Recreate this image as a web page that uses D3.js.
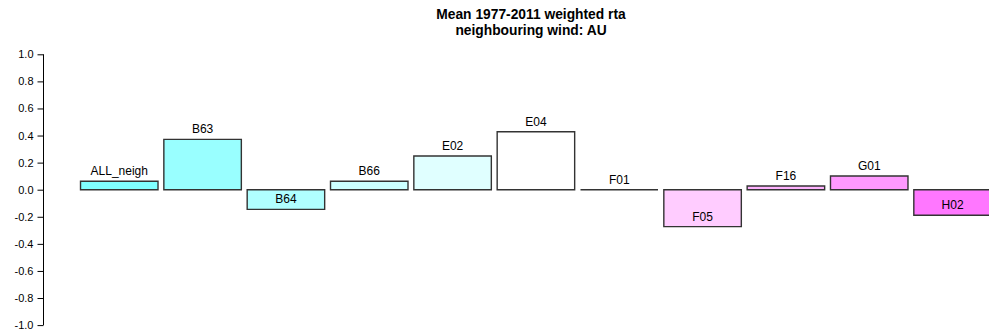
<!DOCTYPE html>
<html><head><meta charset="utf-8">
<script src="https://cdn.jsdelivr.net/npm/d3@7"></script>
<style>body{margin:0;background:#fff}svg{display:block}text{font-family:"Liberation Sans",Arial,sans-serif}</style>
</head><body>
<svg id="c" width="989" height="335"></svg>
<script>
const categories = ["ALL_neigh","B63","B64","B66","E02","E04","F01","F05","F16","G01","H02"];
const values = [0.062, 0.372, -0.145, 0.062, 0.249, 0.428, 0.0, -0.273, 0.027, 0.101, -0.189];
const colors = ["#80FFFF","#99FFFF","#B0FFFF","#CCFFFF","#E0FFFF","#FFFFFF","#FFFFFF","#FFCCFF","#FFB3FF","#FF99FF","#FF77FF"];
const yTicks = [-1.0,-0.8,-0.6,-0.4,-0.2,0.0,0.2,0.4,0.6,0.8,1.0];
const titleLines = ["Mean 1977-2011 weighted rta","neighbouring wind: AU"];

const svg = d3.select("#c");
const y = d3.scaleLinear().domain([-1,1]).range([325.1,54.3]);
const x = d3.scaleBand().domain(categories).range([77.6, 77.6 + 83.33*categories.length]).paddingInner(0.07).paddingOuter(0.035);

const yAxis = d3.axisLeft(y).tickValues(yTicks).tickFormat(d3.format(".1f")).tickSize(6).tickPadding(4);
const ga = svg.append("g").attr("transform","translate(43.5,0)").call(yAxis);
ga.select(".domain").attr("stroke","#000").attr("d","M-0,54.3V325.1");
ga.selectAll(".tick line").attr("stroke","#000");
ga.selectAll(".tick text").attr("font-size",11).attr("fill","#000").text(d=>d3.format(".1f")(d).replace("−","-"));

svg.append("g").selectAll("path").data(categories).join("path")
  .attr("d", (d,i)=>{
    const x0 = x(d), x1 = x(d)+x.bandwidth(), y0 = y(0), y1 = y(values[i]);
    return `M${x0},${y0}L${x0},${y1}L${x1},${y1}L${x1},${y0}Z`;
  })
  .attr("fill", (d,i)=>colors[i])
  .attr("stroke","#333").attr("stroke-width",1.4);

svg.append("g").selectAll("text").data(categories).join("text")
  .attr("x", d=>x(d)+x.bandwidth()/2)
  .attr("y", (d,i)=>y(values[i]+0.075))
  .attr("dy","0.35em")
  .attr("text-anchor","middle")
  .attr("font-size",12).attr("fill","#000")
  .text(d=>d);

svg.append("g").selectAll("text").data(titleLines).join("text")
  .attr("x", 531).attr("y",(d,i)=>19+i*16)
  .attr("text-anchor","middle").attr("font-weight","bold").attr("font-size",13.8)
  .text(d=>d);
</script>
</body></html>
